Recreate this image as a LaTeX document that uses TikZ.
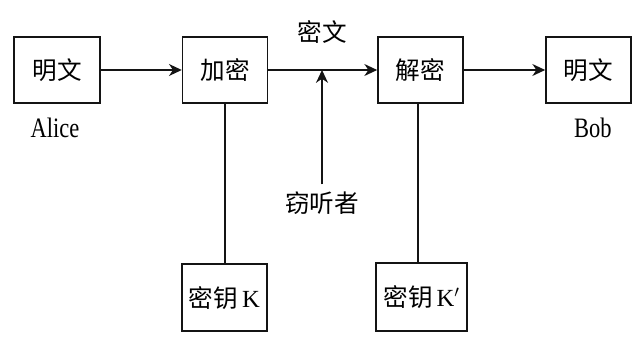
\documentclass[tikz,border=0pt]{standalone}
\usepackage{fontspec}
\usepackage{graphicx}
\usepackage{tikz}
\usetikzlibrary{arrows.meta, positioning, calc}
\setmainfont{Liberation Serif}
\newfontfamily\cjk{Noto Sans CJK SC}
\definecolor{lineblack}{RGB}{20, 20, 20}
\newcommand{\narrowname}[1]{\scalebox{0.8}[1]{#1}}

\begin{document}
\begin{tikzpicture}[
    box/.style={draw=lineblack, line width=1.2pt, minimum height=1.65cm,
                inner sep=0pt, font=\cjk\fontsize{17.5}{20}\selectfont},
    flow/.style={draw=lineblack, line width=0.9pt, -{Stealth[length=0.32cm, width=0.3cm, inset=0.1cm]}},
    link/.style={draw=lineblack, line width=0.9pt},
    tag/.style={font=\fontsize{20}{22}\selectfont, inner sep=0pt}
  ]
  \useasboundingbox (0,0) rectangle (16,8.6);

  % top row
  \node[box, minimum width=2.15cm] (plainA) at (1.425,6.85) {明文};
  \node[box, minimum width=2.12cm] (enc) at (5.625,6.85) {加密};
  \node[box, minimum width=2.12cm] (dec) at (10.51,6.85) {解密};
  \node[box, minimum width=2.12cm] (plainB) at (14.71,6.85) {明文};

  % keys
  \node[box, minimum width=2.12cm, minimum height=1.68cm] (keyK) at (5.61,1.16) {密钥\,{\rmfamily K}};
  \node[box, minimum width=2.27cm, minimum height=1.7cm] (keyKp) at (10.54,1.175) {密钥\,{\rmfamily K$'$}};

  % labels
  \node[tag] (alice) at (1.375,5.4) {\narrowname{Alice}};
  \node[tag] (bob) at (14.82,5.4) {\narrowname{Bob}};
  \node[font=\cjk\fontsize{17.5}{20}\selectfont, inner sep=0pt] (cipher) at (8.05,7.8) {密文};
  \node[font=\cjk\fontsize{17.5}{20}\selectfont, inner sep=0pt] (eve) at (8.05,3.52) {窃听者};
  \coordinate (tap) at (8.05,6.85);

  \draw[flow] (plainA) -- (enc);
  \draw[flow] (enc) -- (dec);
  \draw[flow] (dec) -- (plainB);
  \draw[flow, shorten <=0.18cm] (eve.north) -- (tap);

  \draw[link] (enc.south) -- (enc.south |- keyK.north);
  \draw[link] ([xshift=-0.06cm]dec.south) -- ([xshift=-0.06cm]dec.south |- keyKp.north);
\end{tikzpicture}
\end{document}
